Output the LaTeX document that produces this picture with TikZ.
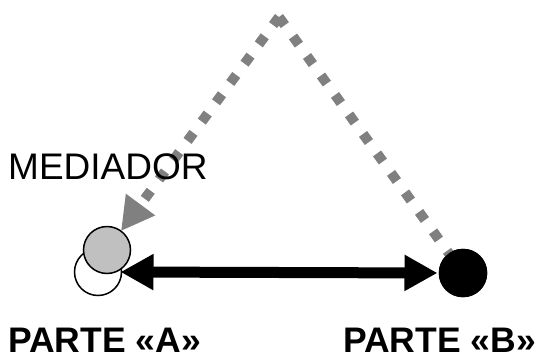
\documentclass[tikz,border=0pt]{standalone}
\usepackage{fontspec}
\setmainfont{Liberation Sans}
\usetikzlibrary{arrows.meta}
\definecolor{linegray}{HTML}{808080}
\definecolor{discgray}{HTML}{C0C0C0}
\tikzset{
  party/.style={circle, draw=black, line width=1.5pt, minimum size=47pt, inner sep=0pt, outer sep=0pt},
  dotline/.style={linegray, line width=10pt, dash pattern=on 10pt off 14pt},
  bigarrow/.style={line width=11pt, {Triangle[length=33pt,width=34pt]}-{Triangle[length=33pt,width=34pt]}},
  grayhead/.style={-{Triangle[length=33pt,width=34pt]}},
  label/.style={inner sep=0pt, anchor=base west, text depth=0pt, font=\fontsize{37}{40}\selectfont},
  partlabel/.style={inner sep=0pt, anchor=base west, text depth=0pt, font=\fontsize{35.5}{40}\selectfont\bfseries}
}
\begin{document}
\begin{tikzpicture}[x=1pt, y=-1pt]
  \useasboundingbox (0,0) rectangle (548,356);

  % parties
  \node[party, fill=white] (ghost) at (98,272) {};
  \node[party, fill=discgray] (mediator) at (107,250) {};
  \node[party, fill=black] (partB) at (463,273) {};
  \coordinate (apex) at (279,17);

  % indirect path through the top
  \draw[dotline] (apex) -- (partB);
  \draw[dotline, grayhead] (apex) -- (mediator);
  \node[party, fill=black] at (partB) {};

  % direct exchange between the parties
  \draw[bigarrow, shorten <=-1pt, shorten >=2pt] (ghost.east) -- (partB.west);

  % labels
  \node[label] (medtext) at (8,179) {MEDIADOR};
  \node[partlabel] (textA) at (8,352) {PARTE «A»};
  \node[partlabel] (textB) at (343,352) {PARTE «B»};
\end{tikzpicture}
\end{document}
